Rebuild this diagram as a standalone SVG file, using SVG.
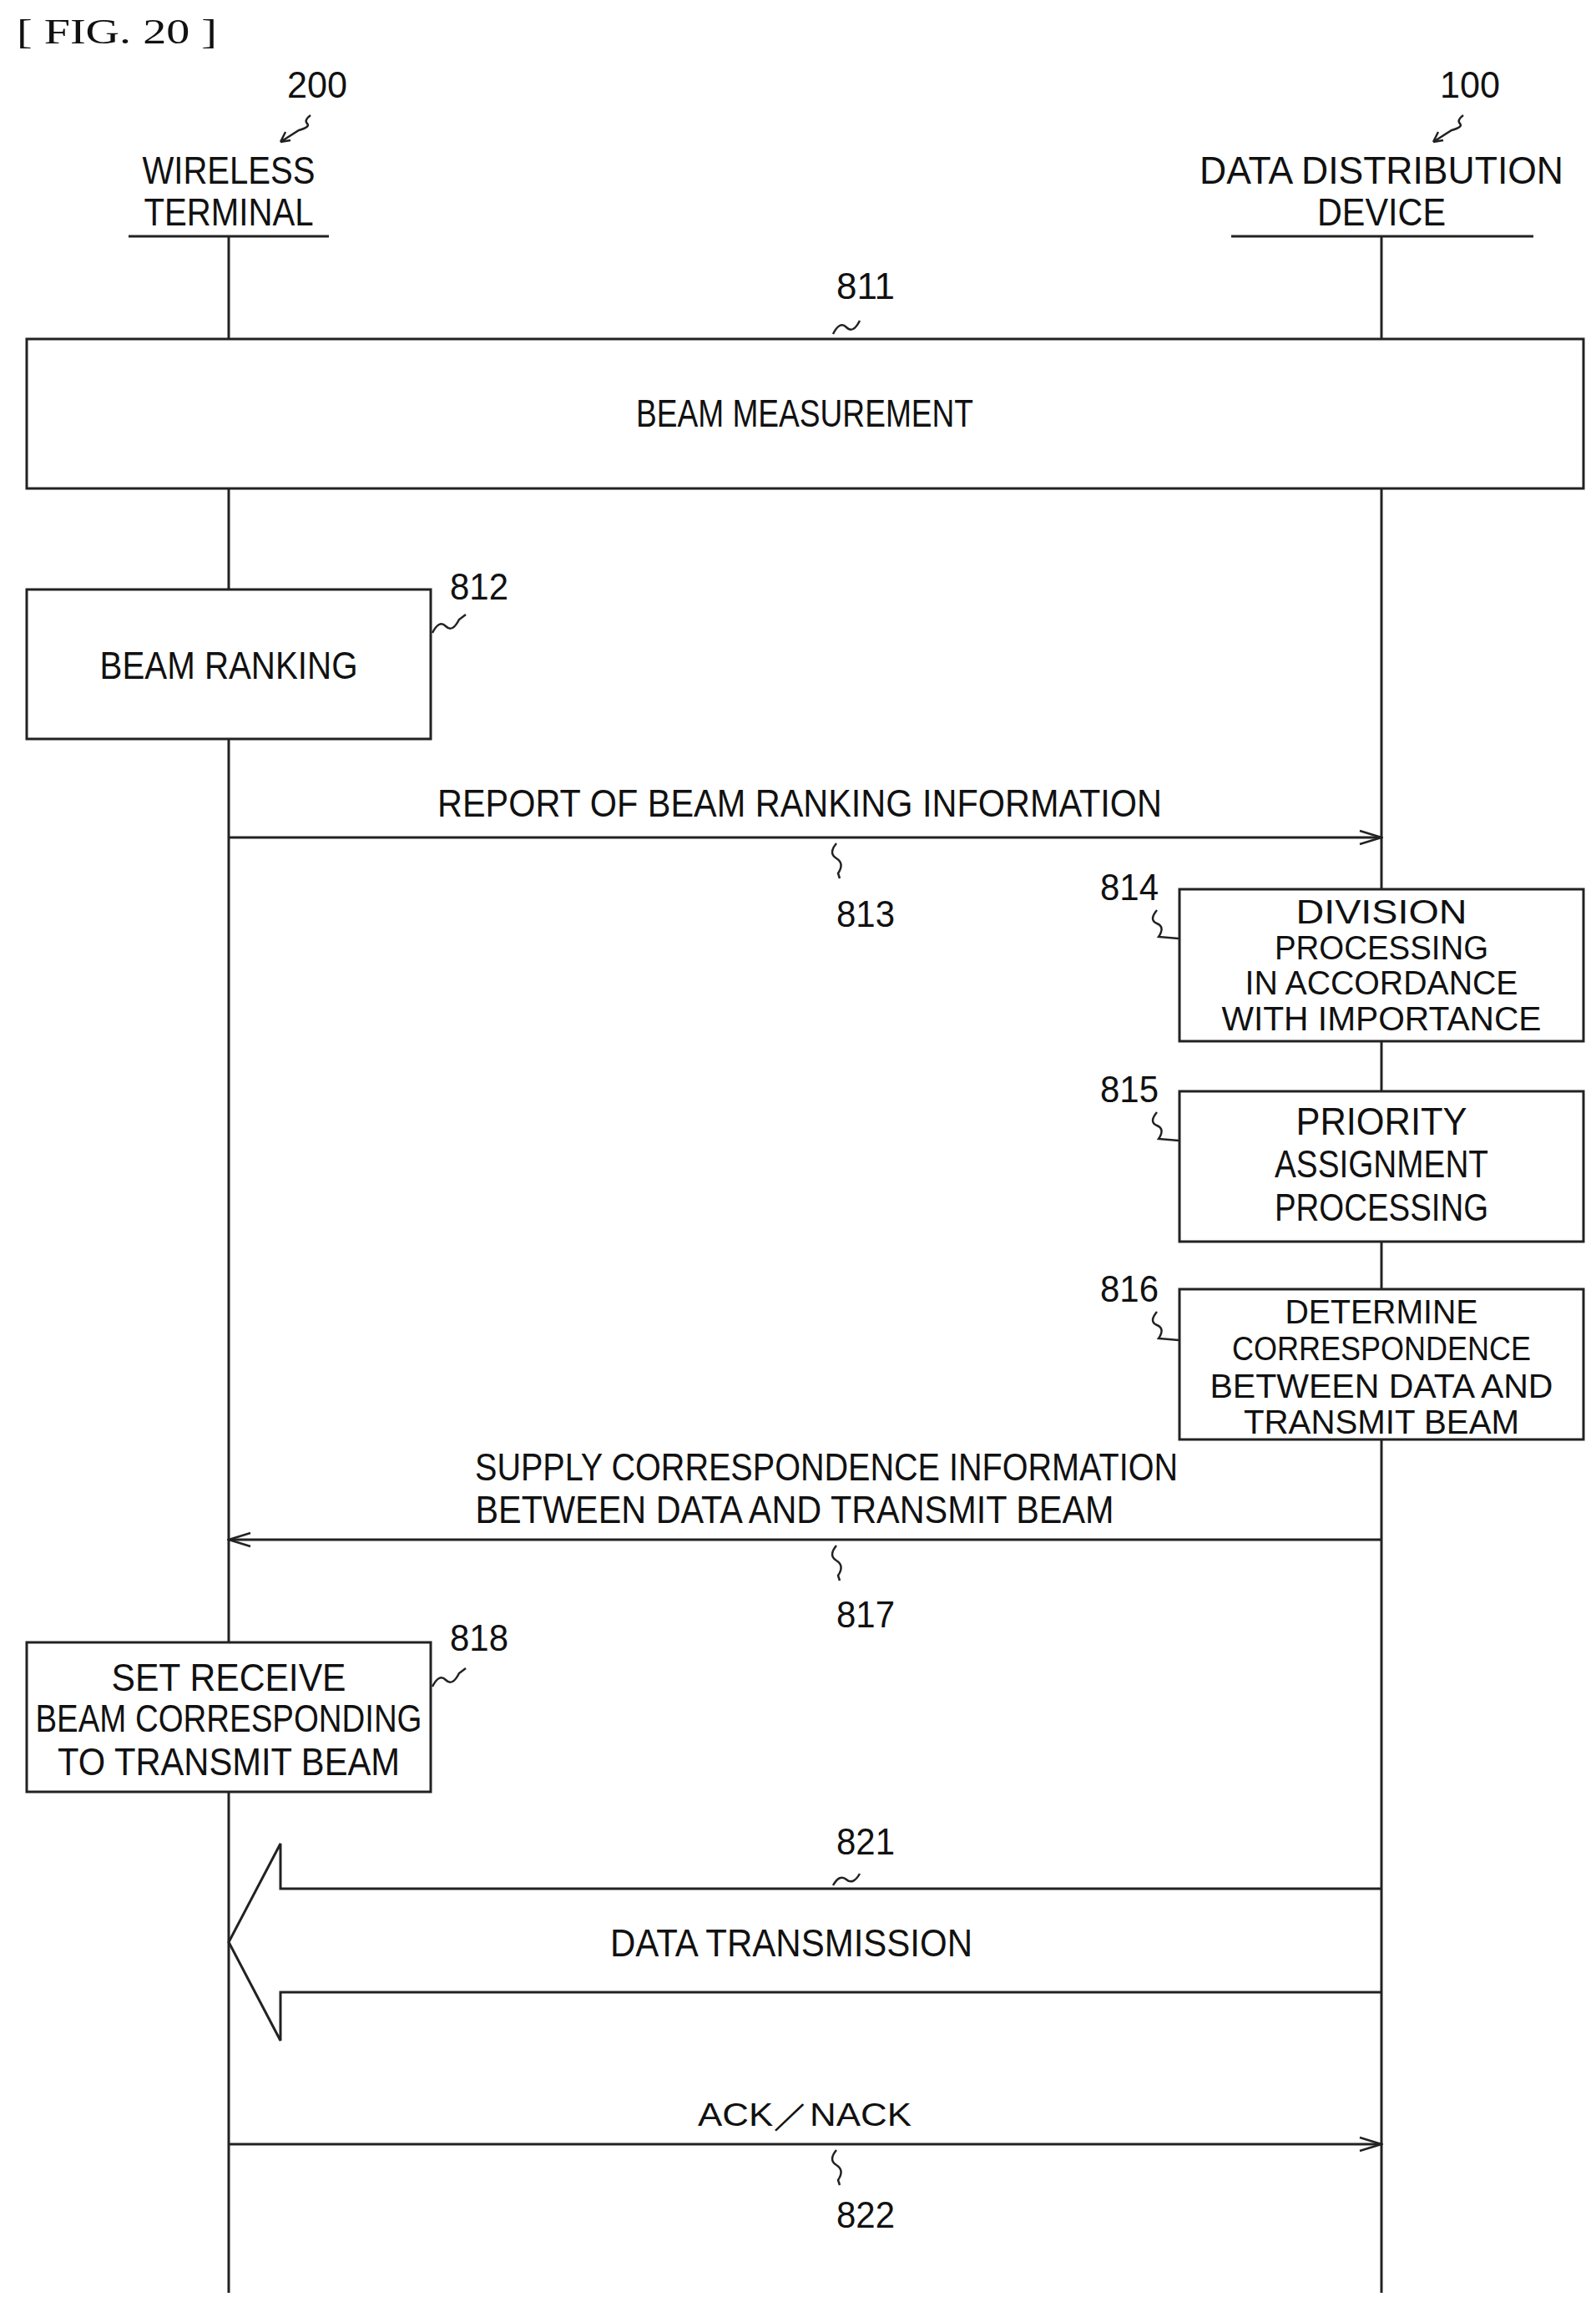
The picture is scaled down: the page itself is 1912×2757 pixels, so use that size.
<svg xmlns="http://www.w3.org/2000/svg" width="1912" height="2757" viewBox="0 0 1912 2757">
<style>
text{font-family:"Liberation Sans",Arial,sans-serif;font-size:46px;fill:#111;text-anchor:middle}
.n{font-size:44px}
.s{font-size:40px}
.box{fill:#fff;stroke:#222;stroke-width:3}
.ln{stroke:#222;stroke-width:3;fill:none}
.sq{stroke:#222;stroke-width:2.5;fill:none}
</style>
<defs>
<marker id="ah" markerWidth="30" markerHeight="20" refX="28" refY="10" orient="auto" markerUnits="userSpaceOnUse">
<path d="M2,2 L28,10 L2,18" fill="none" stroke="#222" stroke-width="2.5"/>
</marker>
</defs>
<rect width="1912" height="2757" fill="#fff"/>
<text x="20" y="52" style="text-anchor:start;font-family:'Liberation Serif',serif;font-size:42px" textLength="240" lengthAdjust="spacingAndGlyphs">[ FIG. 20 ]</text>
<g id="lifelines">
<line class="ln" x1="274" y1="283" x2="274" y2="2746"/>
<line class="ln" x1="1655" y1="283" x2="1655" y2="2746"/>
</g>
<g id="wireless-terminal">
<text class="n" x="380" y="117" textLength="72" lengthAdjust="spacingAndGlyphs">200</text>
<path class="sq" d="M372,138 q-8,6 -4,10 t-10,8 l-22,14 M336,170 l6,-12 M336,170 l12,-2"/>
<text x="274" y="220" textLength="207" lengthAdjust="spacingAndGlyphs">WIRELESS</text>
<text x="274" y="270" textLength="203" lengthAdjust="spacingAndGlyphs">TERMINAL</text>
<line class="ln" x1="154" y1="283" x2="394" y2="283"/>
</g>
<g id="data-distribution-device">
<text class="n" x="1761" y="117" textLength="72" lengthAdjust="spacingAndGlyphs">100</text>
<path class="sq" d="M1753,138 q-8,6 -4,10 t-10,8 l-22,14 M1717,170 l6,-12 M1717,170 l12,-2"/>
<text x="1655" y="220" textLength="436" lengthAdjust="spacingAndGlyphs">DATA DISTRIBUTION</text>
<text x="1655" y="270" textLength="154" lengthAdjust="spacingAndGlyphs">DEVICE</text>
<line class="ln" x1="1475" y1="283" x2="1837" y2="283"/>
</g>
<g id="n811">
<text class="n" x="1037" y="358" textLength="70" lengthAdjust="spacingAndGlyphs">811</text>
<path class="sq" d="M998,400 q8,-16 16,-8 t16,-8"/>
<rect class="box" x="32" y="406" width="1865" height="179"/>
<text x="964" y="511" textLength="404" lengthAdjust="spacingAndGlyphs">BEAM MEASUREMENT</text>
</g>
<g id="n812">
<text class="n" x="574" y="718" textLength="70" lengthAdjust="spacingAndGlyphs">812</text>
<path class="sq" d="M518,758 q8,-16 16,-8 t16,-8 l8,-6"/>
<rect class="box" x="32" y="706" width="484" height="179"/>
<text x="274" y="813" textLength="309" lengthAdjust="spacingAndGlyphs">BEAM RANKING</text>
</g>
<g id="connectors">
<line class="ln" x1="274" y1="1003" x2="1655" y2="1003" marker-end="url(#ah)"/>
<line class="ln" x1="1655" y1="1844" x2="274" y2="1844" marker-end="url(#ah)"/>
<line class="ln" x1="274" y1="2568" x2="1655" y2="2568" marker-end="url(#ah)"/>
<path class="ln" d="M1655,2262 L336,2262 L336,2208 L274,2326 L336,2444 L336,2386 L1655,2386"/>
</g>
<g id="e813">
<text x="958" y="978" textLength="868" lengthAdjust="spacingAndGlyphs">REPORT OF BEAM RANKING INFORMATION</text>
<path class="sq" d="M1002,1010 q-10,12 0,18 t2,18 l2,6"/>
<text class="n" x="1037" y="1110" textLength="70" lengthAdjust="spacingAndGlyphs">813</text>
</g>
<g id="n814">
<text class="n" x="1353" y="1078" textLength="70" lengthAdjust="spacingAndGlyphs">814</text>
<path class="sq" d="M1386,1090 q-10,12 0,16 t2,16 l24,2"/>
<rect class="box" x="1413" y="1065" width="484" height="182"/>
<text class="s" x="1655" y="1106" textLength="205" lengthAdjust="spacingAndGlyphs">DIVISION</text>
<text class="s" x="1655" y="1149" textLength="256" lengthAdjust="spacingAndGlyphs">PROCESSING</text>
<text class="s" x="1655" y="1191" textLength="327" lengthAdjust="spacingAndGlyphs">IN ACCORDANCE</text>
<text class="s" x="1655" y="1234" textLength="383" lengthAdjust="spacingAndGlyphs">WITH IMPORTANCE</text>
</g>
<g id="n815">
<text class="n" x="1353" y="1320" textLength="70" lengthAdjust="spacingAndGlyphs">815</text>
<path class="sq" d="M1386,1332 q-10,12 0,16 t2,16 l24,2"/>
<rect class="box" x="1413" y="1307" width="484" height="180"/>
<text x="1655" y="1359" textLength="205" lengthAdjust="spacingAndGlyphs">PRIORITY</text>
<text x="1655" y="1410" textLength="256" lengthAdjust="spacingAndGlyphs">ASSIGNMENT</text>
<text x="1655" y="1462" textLength="256" lengthAdjust="spacingAndGlyphs">PROCESSING</text>
</g>
<g id="n816">
<text class="n" x="1353" y="1559" textLength="70" lengthAdjust="spacingAndGlyphs">816</text>
<path class="sq" d="M1386,1571 q-10,12 0,16 t2,16 l24,2"/>
<rect class="box" x="1413" y="1544" width="484" height="180"/>
<text class="s" x="1655" y="1585" textLength="231" lengthAdjust="spacingAndGlyphs">DETERMINE</text>
<text class="s" x="1655" y="1629" textLength="358" lengthAdjust="spacingAndGlyphs">CORRESPONDENCE</text>
<text class="s" x="1655" y="1674" textLength="411" lengthAdjust="spacingAndGlyphs">BETWEEN DATA AND</text>
<text class="s" x="1655" y="1717" textLength="330" lengthAdjust="spacingAndGlyphs">TRANSMIT BEAM</text>
</g>
<g id="e817">
<text x="990" y="1773" textLength="842" lengthAdjust="spacingAndGlyphs">SUPPLY CORRESPONDENCE INFORMATION</text>
<text x="952" y="1824" textLength="765" lengthAdjust="spacingAndGlyphs">BETWEEN DATA AND TRANSMIT BEAM</text>
<path class="sq" d="M1002,1851 q-10,12 0,18 t2,18 l2,6"/>
<text class="n" x="1037" y="1949" textLength="70" lengthAdjust="spacingAndGlyphs">817</text>
</g>
<g id="n818">
<text class="n" x="574" y="1977" textLength="70" lengthAdjust="spacingAndGlyphs">818</text>
<path class="sq" d="M518,2020 q8,-16 16,-8 t16,-8 l8,-6"/>
<rect class="box" x="32" y="1967" width="484" height="179"/>
<text x="274" y="2025" textLength="281" lengthAdjust="spacingAndGlyphs">SET RECEIVE</text>
<text x="274" y="2074" textLength="463" lengthAdjust="spacingAndGlyphs">BEAM CORRESPONDING</text>
<text x="274" y="2126" textLength="410" lengthAdjust="spacingAndGlyphs">TO TRANSMIT BEAM</text>
</g>
<g id="e821">
<text class="n" x="1037" y="2221" textLength="70" lengthAdjust="spacingAndGlyphs">821</text>
<path class="sq" d="M998,2258 q8,-14 16,-7 t16,-7"/>
<text x="948" y="2343" textLength="434" lengthAdjust="spacingAndGlyphs">DATA TRANSMISSION</text>
</g>
<g id="e822">
<text x="964" y="2546" style="font-size:38px" textLength="256" lengthAdjust="spacingAndGlyphs">ACK／NACK</text>
<path class="sq" d="M1002,2575 q-10,12 0,18 t2,18 l2,6"/>
<text class="n" x="1037" y="2668" textLength="70" lengthAdjust="spacingAndGlyphs">822</text>
</g>
</svg>
